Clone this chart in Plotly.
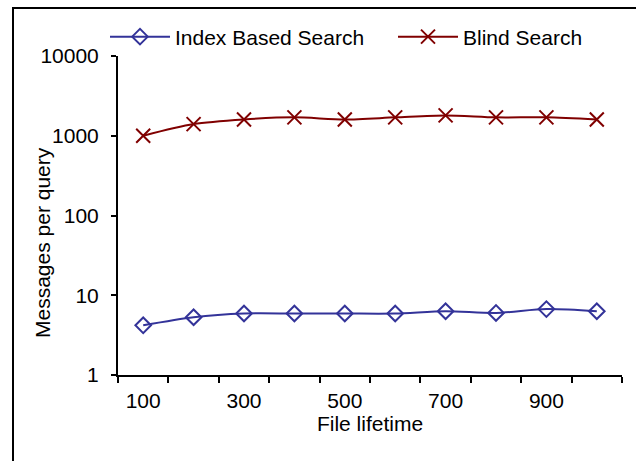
import plotly.graph_objects as go

# File lifetime categories and messages per query for each search strategy
lifetimes = [100, 200, 300, 400, 500, 600, 700, 800, 900, 1000]
index_based = [4.2, 5.3, 5.9, 5.9, 5.9, 5.9, 6.3, 6.0, 6.7, 6.3]
blind = [1000, 1400, 1600, 1700, 1600, 1700, 1800, 1700, 1700, 1600]

x_labels = [100, 300, 500, 700, 900]
y_ticks = [1, 10, 100, 1000, 10000]
boundaries = [50 + 100 * i for i in range(11)]

FONT = "Liberation Sans, Arial, sans-serif"
BLUE = "#333399"
RED = "#800000"

W, H = 636, 461
L, R, T, B = 118, 14, 56, 86
pw, ph = W - L - R, H - T - B

fig = go.Figure()
fig.add_trace(go.Scatter(
    x=lifetimes, y=index_based, name="Index Based Search",
    mode="lines+markers", legend="legend",
    line=dict(color=BLUE, width=2, shape="spline", smoothing=0.8),
    marker=dict(symbol="diamond-open", size=12, color=BLUE, line=dict(width=2, color=BLUE)),
))
fig.add_trace(go.Scatter(
    x=lifetimes, y=blind, name="Blind Search",
    mode="lines+markers", legend="legend2",
    line=dict(color=RED, width=2, shape="spline", smoothing=0.8),
    marker=dict(symbol="x-thin", size=14, color=RED, line=dict(width=2, color=RED)),
))

legend_common = dict(
    orientation="h", xanchor="left", y=1 + (T - 37) / ph, yanchor="middle",
    font=dict(size=21), bgcolor="rgba(0,0,0,0)", itemwidth=60,
)

fig.update_layout(
    width=W, height=H,
    margin=dict(l=L, r=R, t=T, b=B, pad=0),
    paper_bgcolor="white", plot_bgcolor="white",
    font=dict(family=FONT, size=21, color="black"),
    showlegend=True,
    legend=dict(x=(105 - L) / pw, **legend_common),
    legend2=dict(x=(393 - L) / pw, **legend_common),
    xaxis=dict(
        range=[50, 1050],
        tickmode="array", tickvals=x_labels, ticktext=[str(v) for v in x_labels],
        ticks="", showgrid=False, zeroline=False,
        showline=True, linecolor="black", linewidth=2,
        minor=dict(tickmode="array", tickvals=boundaries, ticks="outside",
                   ticklen=6, tickwidth=2, tickcolor="black", showgrid=False),
        ticklabelstandoff=6,
        title=dict(text="File lifetime", font=dict(size=21), standoff=4),
        tickfont=dict(size=21),
    ),
    yaxis=dict(
        type="log", range=[0, 4],
        tickmode="array", tickvals=y_ticks, ticktext=[str(v) for v in y_ticks],
        ticks="outside", ticklen=5, tickwidth=2, tickcolor="black",
        showgrid=False, zeroline=False,
        showline=True, linecolor="black", linewidth=2,
        ticklabelstandoff=8,
        tickfont=dict(size=21),
    ),
    annotations=[dict(
        text="Messages per query", textangle=-90,
        xref="paper", yref="paper", x=(43 - L) / pw, y=1 - (243 - T) / ph,
        xanchor="center", yanchor="middle", showarrow=False,
        font=dict(size=21),
    )],
    shapes=[dict(
        type="rect", xref="paper", yref="paper",
        x0=(13 - L) / pw, x1=1.3, y0=-0.6, y1=1 + (T - 8) / ph,
        line=dict(color="black", width=2), fillcolor="rgba(0,0,0,0)", layer="below",
    )],
)

fig.write_html("out.html")
